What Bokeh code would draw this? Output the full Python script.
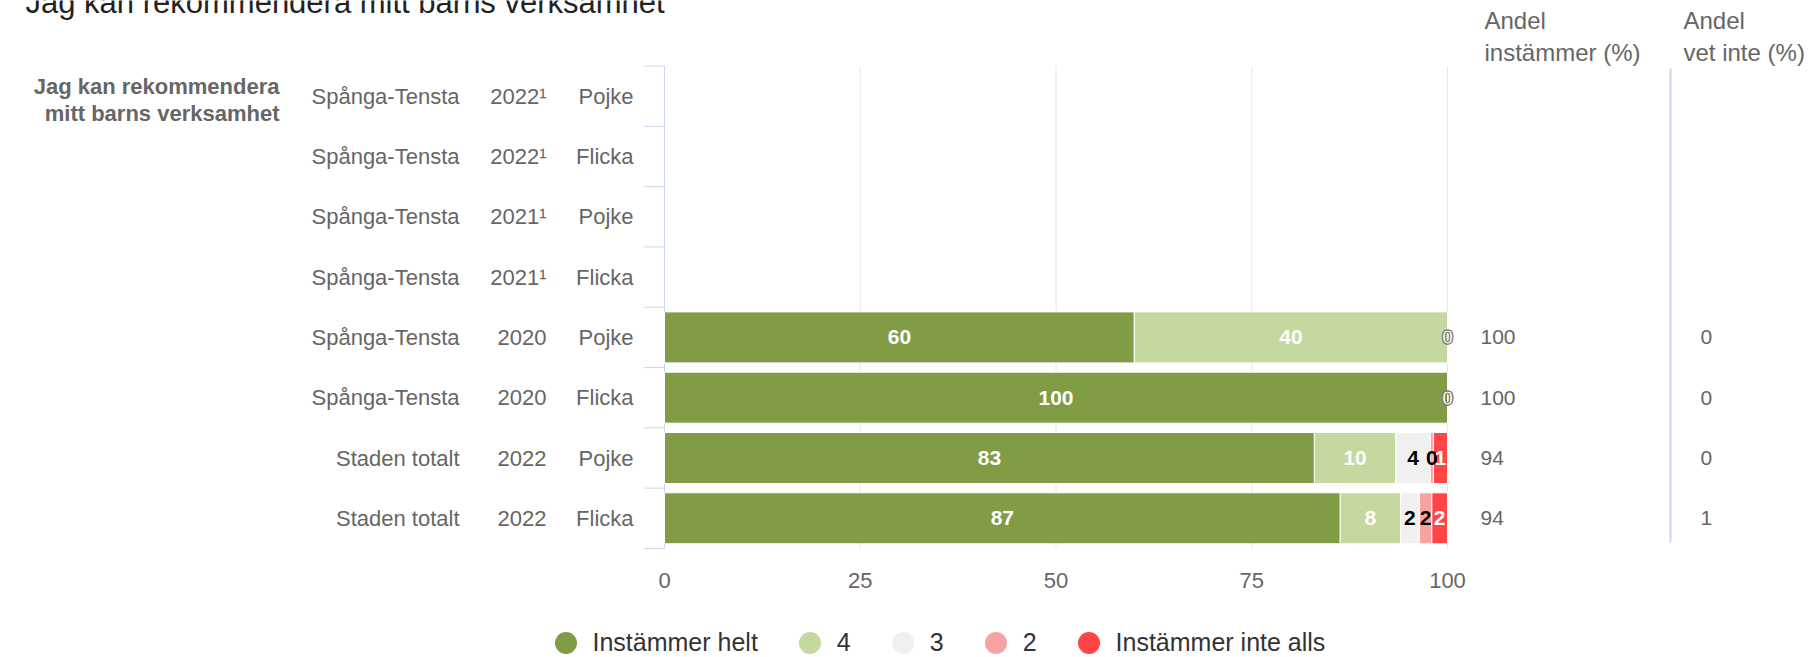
import numpy as np
from bokeh.plotting import figure
from bokeh.models import Range1d, LinearAxis, FixedTicker, Legend, LegendItem
from bokeh.core.properties import value
from bokeh.embed import file_html
from bokeh.resources import INLINE

# ---------------- data ----------------
title = "Jag kan rekommendera mitt barns verksamhet"
question = ["Jag kan rekommendera", "mitt barns verksamhet"]
areas = ["Spånga-Tensta", "Spånga-Tensta", "Spånga-Tensta", "Spånga-Tensta",
         "Spånga-Tensta", "Spånga-Tensta", "Staden totalt", "Staden totalt"]
years = ["2022¹", "2022¹", "2021¹", "2021¹", "2020", "2020", "2022", "2022"]
genders = ["Pojke", "Flicka", "Pojke", "Flicka", "Pojke", "Flicka", "Pojke", "Flicka"]

series_names = ["Instämmer helt", "4", "3", "2", "Instämmer inte alls"]
series_colors = ["#809c44", "#c5d89f", "#f0f0f0", "#f8a3a3", "#ff4545"]
label_colors = ["white", "white", "black", "black", "white"]

nan = float("nan")
v_helt = [nan, nan, nan, nan, 60.0, 100.0, 83.0, 86.3]
v_4 = [nan, nan, nan, nan, 40.0, 0.0, 10.4, 7.7]
v_3 = [nan, nan, nan, nan, 0.0, 0.0, 4.4, 2.4]
v_2 = [nan, nan, nan, nan, 0.0, 0.0, 0.4, 1.6]
v_inte = [nan, nan, nan, nan, 0.0, 0.0, 1.8, 2.0]

lab_helt = ["", "", "", "", "60", "100", "83", "87"]
lab_4 = ["", "", "", "", "40", "0", "10", "8"]
lab_3 = ["", "", "", "", "0", "0", "4", "2"]
lab_2 = ["", "", "", "", "0", "0", "0", "2"]
lab_inte = ["", "", "", "", "0", "0", "1", "2"]

andel_instammer = ["", "", "", "", "100", "100", "94", "94"]
andel_vet_inte = ["", "", "", "", "0", "0", "0", "1"]
header_instammer = ["Andel", "instämmer (%)"]
header_vet_inte = ["Andel", "vet inte (%)"]

x_ticks = [0, 25, 50, 75, 100]
grid_ticks = [25, 50, 75, 100]

# ---------------- layout ----------------
W, H = 1808, 657
X0_PX = 664.0          # px of value 0
PPU = 7.83             # px per percent
ROW0_PX = 95.7         # px of first row centre
ROW_PX = 60.3          # px per row
FONT = "Liberation Sans"
GREY = "#666666"


def xd(px):
    return (px - X0_PX) / PPU


def yd(py):
    return (py - ROW0_PX) / ROW_PX


n = len(areas)
rows = list(range(n))

p = figure(width=W, height=H, x_range=Range1d(xd(0), xd(W)), y_range=Range1d(yd(H), yd(0)),
           x_axis_type=None, y_axis_type=None, toolbar_location=None,
           output_backend="svg", min_border=0)
p.outline_line_color = None
p.background_fill_color = "white"
p.border_fill_color = "white"

# grid lines
p.segment(x0=grid_ticks, x1=grid_ticks, y0=[-0.5] * len(grid_ticks), y1=[n - 0.5] * len(grid_ticks),
          line_color="#e6e6e6", line_width=1)

# category axis line and ticks
bounds = [i - 0.5 for i in range(n + 1)]
p.segment(x0=[0], x1=[0], y0=[-0.5], y1=[n - 0.5], line_color="#ccd6eb", line_width=1)
p.segment(x0=[xd(644)] * len(bounds), x1=[0] * len(bounds), y0=bounds, y1=bounds,
          line_color="#ccd6eb", line_width=1)

# separator line
p.segment(x0=[xd(1670)], x1=[xd(1670)], y0=[yd(68)], y1=[yd(542)], line_color="#ccd6eb", line_width=2)

# stacked bars (all bars first, labels afterwards so they sit on top)
series_vals = [v_helt, v_4, v_3, v_2, v_inte]
series_labs = [lab_helt, lab_4, lab_3, lab_2, lab_inte]
left = np.zeros(n)
legend_items = []
label_jobs = []
for name, vals, labs, col, lcol in zip(series_names, series_vals, series_labs, series_colors, label_colors):
    v = np.array(vals, dtype=float)
    right = left + v
    p.hbar(y=rows, left=left, right=right, height=51 / ROW_PX, fill_color=col,
           line_color="white", line_width=1)
    label_jobs.append(((left + right) / 2, v, labs, lcol))
    left = right
    r_leg = p.scatter(x=[nan], y=[nan], marker="circle", size=22, fill_color=col, line_color=None)
    legend_items.append(LegendItem(label=name, renderers=[r_leg]))

for mid, v, labs, lcol in label_jobs:
    nz = [i for i in rows if labs[i] != "" and v[i] > 0]
    zr = [i for i in rows if labs[i] != "" and v[i] == 0]
    if nz:
        p.text(x=[mid[i] for i in nz], y=[i for i in nz], text=[labs[i] for i in nz],
               text_font=value(FONT), text_font_size="21px", text_font_style="bold",
               text_color=lcol, text_align="center", text_baseline="middle")
    if zr:
        p.text(x=[mid[i] for i in zr], y=[i for i in zr], text=[labs[i] for i in zr],
               text_font=value(FONT), text_font_size="21px", text_font_style="bold",
               text_color="white", text_outline_color="#777777",
               text_align="center", text_baseline="middle")

# category labels
for col_px, labels in ((459, areas), (546, years), (633, genders)):
    p.text(x=[xd(col_px)] * n, y=rows, text=labels, text_font=value(FONT), text_font_size="22px",
           text_color=GREY, text_align="right", text_baseline="middle")

# question label
p.text(x=[xd(279)] * 2, y=[yd(86), yd(113)], text=question, text_font=value(FONT),
       text_font_size="22px", text_font_style="bold", text_color=GREY,
       text_align="right", text_baseline="middle")

# title (clipped at the top like the reference)
p.text(x=[xd(25)], y=[yd(2)], text=[title], text_font=value(FONT), text_font_size="31px",
       text_color="#222222", text_align="left", text_baseline="alphabetic")

# right-hand columns
p.text(x=[xd(1480)] * n, y=rows, text=andel_instammer, text_font=value(FONT), text_font_size="21px",
       text_color=GREY, text_align="left", text_baseline="middle")
p.text(x=[xd(1700)] * n, y=rows, text=andel_vet_inte, text_font=value(FONT), text_font_size="21px",
       text_color=GREY, text_align="left", text_baseline="middle")
p.text(x=[xd(1484)] * 2, y=[yd(20), yd(52)], text=header_instammer, text_font=value(FONT),
       text_font_size="24px", text_color=GREY, text_align="left", text_baseline="middle")
p.text(x=[xd(1683)] * 2, y=[yd(20), yd(52)], text=header_vet_inte, text_font=value(FONT),
       text_font_size="24px", text_color=GREY, text_align="left", text_baseline="middle")

# x axis
xaxis = LinearAxis(fixed_location=n - 0.5, ticker=FixedTicker(ticks=x_ticks),
                   axis_line_color=None, major_tick_line_color=None, minor_tick_line_color=None,
                   major_label_text_font=FONT, major_label_text_font_size="22px",
                   major_label_text_color=GREY, major_label_standoff=19)
p.add_layout(xaxis, "below")

# legend
legend = Legend(items=legend_items, orientation="horizontal", location=(537.5, -12.5),
                glyph_width=55, glyph_height=55, label_standoff=0, spacing=24, padding=0, margin=0,
                label_width=0, border_line_color=None, background_fill_alpha=0,
                label_text_font=FONT, label_text_font_size="25px", label_text_color="#333333")
p.add_layout(legend)

open("out.html", "w").write(file_html(p, INLINE))
